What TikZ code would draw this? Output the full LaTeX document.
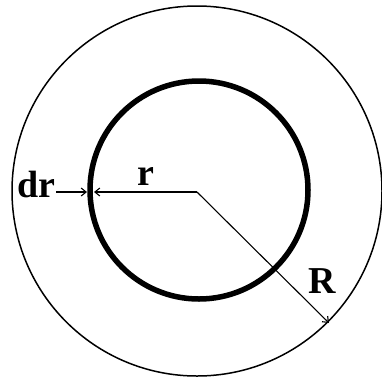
\documentclass[tikz,border=0pt]{standalone}
\usepackage{fontspec}
\setmainfont{Liberation Serif}
\usetikzlibrary{arrows.meta}
\begin{document}
\begin{tikzpicture}[x=1pt,y=-1pt,
  thinring/.style={line width=1.5pt},
  thickring/.style={line width=5.5pt},
  arr/.style={line width=1.1pt,-{Straight Barb[length=5pt,width=8pt]}},
  lbl/.style={font=\fontsize{38}{40}\selectfont\bfseries,inner sep=0pt,anchor=base}]
\useasboundingbox (0,0) rectangle (382,381);
\coordinate (O) at (197,192);
\coordinate (Oin) at (199,190);
\coordinate (Oout) at (197,191);
\draw[thinring] (Oout) circle[radius=185];
\draw[thickring] (Oin) circle[radius=109];
\coordinate (drs) at (56,192);
\coordinate (dre) at (87,192);
\coordinate (re) at (94,192);
\coordinate (Re) at (329,323);
\draw[arr] (drs) -- (dre);
\draw[arr] (O) -- (re);
\draw[arr] (O) -- (Re);
\node[lbl] (dr) at (36,197) {dr};
\node[lbl] (r) at (146,185) {r};
\node[lbl] (R) at (322,293) {R};
\end{tikzpicture}
\end{document}
